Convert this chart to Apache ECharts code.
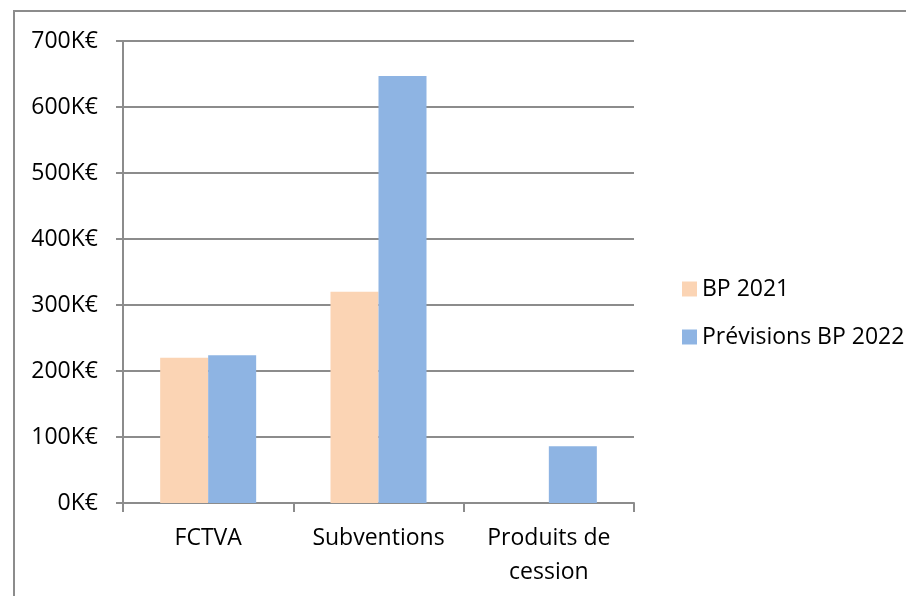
<!DOCTYPE html>
<html lang="fr">
<head>
<meta charset="utf-8">
<title>BP 2021 / Prévisions BP 2022</title>
<script src="https://cdn.jsdelivr.net/npm/echarts@6/dist/echarts.min.js"></script>
<style>
  html, body { margin: 0; padding: 0; background: #fff; }
  #container { width: 906px; height: 596px; }
</style>
</head>
<body>
<div id="container"></div>
<script>
// donnees (en K€)
var categories = ['FCTVA', 'Subventions', 'Produits de\ncession'];
var bp2021 = [220, 320, '-'];
var prev2022 = [224, 647, 86];
var yTicks = [0, 100, 200, 300, 400, 500, 600, 700];

var FONT = "'Open Sans', 'Noto Sans', sans-serif";
var gridColor = '#8c8c8c';

var myChart = echarts.init(document.getElementById('container'));
var option = {
    animation: false,
    textStyle: { fontFamily: FONT },
    graphic: [
        {
            type: 'polyline',
            shape: { points: [[14, 600], [14, 11], [910, 11]] },
            style: { stroke: '#8c8c8c', lineWidth: 2, fill: null }
        }
    ],
    legend: {
        orient: 'vertical',
        left: 677,
        top: 272,
        itemWidth: 15,
        itemHeight: 15,
        itemGap: 24,
        icon: 'rect',
        textStyle: { fontSize: 23, color: '#000', fontFamily: FONT, lineHeight: 24 },
        data: ['BP 2021', 'Prévisions BP 2022']
    },
    grid: { left: 123, right: 272, top: 41, bottom: 93 },
    xAxis: {
        type: 'category',
        data: categories,
        axisLine: { lineStyle: { color: gridColor, width: 2 } },
        axisTick: { show: true, length: 9, interval: 0, lineStyle: { color: gridColor, width: 2 } },
        axisLabel: { fontSize: 23, color: '#000', margin: 18, lineHeight: 34, interval: 0 }
    },
    yAxis: {
        type: 'value',
        min: yTicks[0],
        max: yTicks[yTicks.length - 1],
        interval: 100,
        axisLine: { show: true, lineStyle: { color: gridColor, width: 2 } },
        axisTick: { show: true, length: 7, lineStyle: { color: gridColor, width: 2 } },
        splitLine: { lineStyle: { color: gridColor, width: 2 } },
        axisLabel: { fontSize: 23, color: '#000', margin: 25, formatter: function (v) { return v + 'K€'; } }
    },
    series: [
        {
            name: 'BP 2021',
            type: 'bar',
            data: bp2021,
            barWidth: 48,
            barGap: 0,
            itemStyle: { color: '#fbd4b4' }
        },
        {
            name: 'Prévisions BP 2022',
            type: 'bar',
            data: prev2022,
            barWidth: 48,
            barGap: 0,
            itemStyle: { color: '#8eb4e3' }
        }
    ]
};
myChart.setOption(option);
</script>
</body>
</html>
